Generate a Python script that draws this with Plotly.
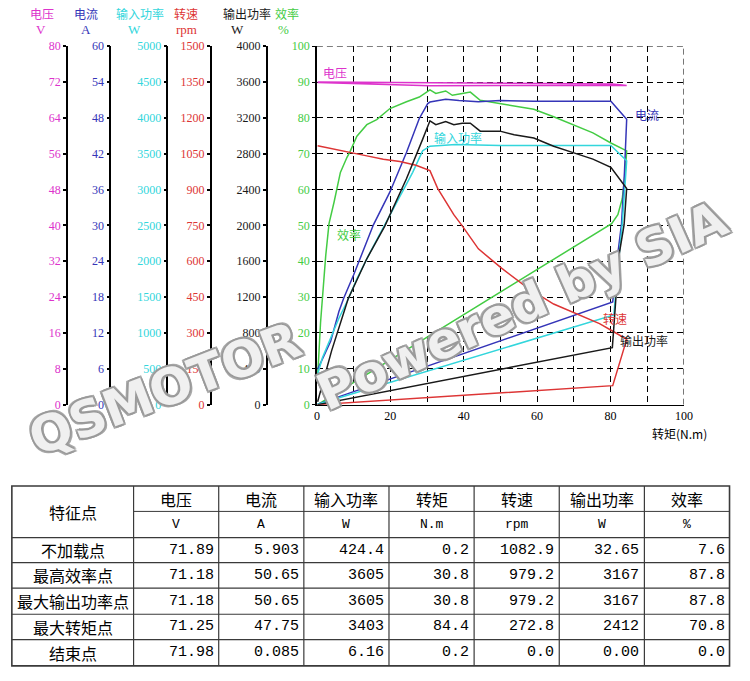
import plotly.graph_objects as go

W, H = 750, 681

# ---------------- chart data ----------------
# Voltage (V), scale 0-80
volt_torque = [0.2, 15.0, 30.8, 50.0, 84.4, 80.6, 40.0, 0.2]
volt_V = [71.89, 71.55, 71.18, 71.20, 71.25, 71.55, 71.80, 71.98]

# Current (A), scale 0-60
cur_torque = [0.2, 2.0, 3.75, 6.0, 7.3, 10.0, 12.7, 15.4, 19.9, 24.4, 27.9, 30.2, 30.8,
              35.1, 38.7, 44.0, 49.9, 59.1, 80.1, 84.4, 83.8, 83.0, 81.6, 80.6, 0.2]
cur_A = [5.903, 8.4, 10.6, 15.6, 17.8, 21.7, 26.0, 30.1, 35.6, 42.2, 47.9, 50.4, 50.65,
         51.1, 50.9, 50.7, 50.9, 50.8, 50.8, 47.75, 38.9, 30.3, 23.3, 17.2, 0.085]

# Input power (W), scale 0-5000
pin_torque = [0.2, 1.5, 3.75, 6.0, 8.2, 10.9, 14.5, 18.5, 22.6, 26.1, 28.8, 30.8, 37.8,
              49.9, 80.1, 82.8, 84.4, 84.0, 83.2, 81.9, 80.9, 0.2]
pin_W = [424.4, 655, 930, 1205, 1435, 1755, 2125, 2510, 2920, 3240, 3540, 3605, 3630,
         3615, 3615, 3490, 3403, 3100, 2525, 1850, 1250, 6.16]

# Speed (rpm), scale 0-1500
spd_torque = [0.2, 4.7, 9.1, 13.6, 18.1, 22.6, 27.0, 30.8, 32.9, 35.1, 37.3, 39.5, 44.0,
              50.3, 57.4, 64.5, 70.8, 77.0, 81.0, 84.4, 80.6, 0.2]
spd_rpm = [1082.9, 1068, 1054, 1041, 1027, 1017, 1002, 979.2, 905, 849, 795, 750, 652,
           571, 489, 421, 379, 339, 304, 272.8, 79.5, 0.0]

# Output power (W), scale 0-4000
pout_torque = [0.2, 4.0, 8.5, 13.5, 18.5, 24.4, 28.8, 30.8, 32.4, 35.1, 37.3, 39.6, 41.8,
               44.5, 49.9, 53.75, 59.1, 64.5, 69.8, 75.2, 80.1, 84.4, 83.7, 82.3, 80.5, 0.2]
pout_W = [32.65, 600, 1180, 1620, 1992, 2520, 2960, 3167, 3124, 3160, 3124, 3140, 3140,
          3052, 3052, 3012, 2976, 2884, 2812, 2740, 2648, 2412, 2008, 1664, 636, 0.0]

# Efficiency (%), scale 0-100
eff_torque = [0.2, 1.0, 2.4, 3.3, 4.7, 6.4, 8.2, 9.0, 10.9, 13.6, 16.3, 19.9, 24.4, 27.9,
              30.8, 32.4, 35.1, 36.9, 39.6, 41.8, 44.5, 49.9, 53.75, 59.1, 64.5, 69.8,
              75.2, 80.1, 84.4, 84.0, 83.2, 82.0, 80.8, 80.3, 0.2]
eff_pct = [7.6, 23.0, 41.5, 50.5, 56.6, 64.8, 69.0, 70.5, 74.9, 78.1, 79.5, 82.6, 84.5, 85.8,
           87.8, 86.8, 87.5, 86.3, 86.8, 87.2, 84.9, 84.0, 83.5, 82.4, 80.3, 78.1,
           75.8, 73.0, 70.8, 64.8, 57.5, 53.0, 51.0, 50.5, 0.0]

# axis definitions
axis_names = ["电压", "电流", "输入功率", "转速", "输出功率", "效率"]
axis_units = ["V", "A", "W", "rpm", "W", "%"]
axis_max = [80, 60, 5000, 1500, 4000, 100]
axis_step = [8, 6, 500, 150, 400, 10]

x_tick_vals = [0, 10, 20, 30, 40, 50, 60, 70, 80, 90, 100]
x_tick_text = ["0", "", "20", "", "40", "", "60", "", "80", "", "100"]

# ---------------- table data ----------------
tbl_rows = ["不加载点", "最高效率点", "最大输出功率点", "最大转矩点", "结束点"]
tbl_cols = ["电压", "电流", "输入功率", "转矩", "转速", "输出功率", "效率"]
tbl_units = ["V", "A", "W", "N.m", "rpm", "W", "%"]
tbl_voltage = ["71.89", "71.18", "71.18", "71.25", "71.98"]
tbl_current = ["5.903", "50.65", "50.65", "47.75", "0.085"]
tbl_pin = ["424.4", "3605", "3605", "3403", "6.16"]
tbl_torque = ["0.2", "30.8", "30.8", "84.4", "0.2"]
tbl_speed = ["1082.9", "979.2", "979.2", "272.8", "0.0"]
tbl_pout = ["32.65", "3167", "3167", "2412", "0.00"]
tbl_eff = ["7.6", "87.8", "87.8", "70.8", "0.0"]

# ---------------- styling ----------------
C_V = "#dd33cc"
C_A = "#3535b8"
C_PIN = "#33d6dc"
C_SPD = "#dd3535"
C_POUT = "#1a1a1a"
C_EFF = "#44cc44"
colors = [C_V, C_A, C_PIN, C_SPD, C_POUT, C_EFF]
axis_line_px = [65, 109, 167, 211, 268, 319]
header_px = [40, 84, 139, 186, 248, 289]
unit_px = [39, 84, 134, 186, 238, 285]

SERIF = "Liberation Serif, Noto Sans CJK SC"
CJK = "Noto Sans CJK SC"
MONO = "Liberation Mono, Noto Sans CJK SC"
GRID_DASH = "6px,4px"


def px(x):
    return x / W


def py(y):
    return 1 - y / H


plot_left, plot_right = 319, 692
plot_top, plot_bottom = 40, 406

fig = go.Figure()
series = [
    (volt_torque, volt_V, "y2", C_V),
    (cur_torque, cur_A, "y3", C_A),
    (pin_torque, pin_W, "y4", C_PIN),
    (spd_torque, spd_rpm, "y5", C_SPD),
    (pout_torque, pout_W, "y6", C_POUT),
    (eff_torque, eff_pct, "y", C_EFF),
]
for xs, ys, ax, col in series:
    fig.add_trace(go.Scatter(x=xs, y=ys, yaxis=ax, mode="lines",
                             line=dict(color=col, width=1.5), showlegend=False,
                             hoverinfo="skip"))

ydom = [py(plot_bottom), py(plot_top)]
layout = dict(
    width=W, height=H,
    margin=dict(l=0, r=0, t=0, b=0),
    paper_bgcolor="white", plot_bgcolor="white",
    showlegend=False,
    xaxis=dict(domain=[px(plot_left), px(plot_right)], range=[0, 100],
               tickvals=x_tick_vals, ticktext=x_tick_text,
               showgrid=True, gridcolor="black", griddash=GRID_DASH, gridwidth=1,
               showline=True, linecolor="black", linewidth=1.2,
               zeroline=False, ticks="",
               tickfont=dict(family=SERIF, size=12, color="black")),
    yaxis=dict(domain=ydom, range=[0, 100], dtick=10,
               showgrid=True, gridcolor="black", griddash=GRID_DASH, gridwidth=1,
               showline=True, linecolor="black", linewidth=1.5,
               zeroline=False, ticks="outside", ticklen=3, tickcolor="black",
               tickfont=dict(family=SERIF, size=12, color=C_EFF)),
)
for i in range(5):
    layout["yaxis%d" % (i + 2)] = dict(
        overlaying="y", anchor="free", position=px(axis_line_px[i]), side="left",
        range=[0, axis_max[i]], dtick=axis_step[i],
        showgrid=False, zeroline=False,
        showline=True, linecolor="black", linewidth=1.5,
        ticks="outside", ticklen=3, tickcolor="black", tickwidth=1.5,
        tickfont=dict(family=SERIF, size=12, color=colors[i]))
fig.update_layout(**layout)


def note(x, y, text, font, xanchor="center", yanchor="middle", xref="paper", yref="paper", **kw):
    d = dict(x=x, y=y, xref=xref, yref=yref, text=text, showarrow=False,
             xanchor=xanchor, yanchor=yanchor, font=font)
    d.update(kw)
    return d


ann = []
# axis headers
for i in range(6):
    ann.append(note(px(header_px[i]), py(7), axis_names[i],
                    dict(family=CJK, size=12, color=colors[i])))
    ann.append(note(px(unit_px[i]), py(22.5), axis_units[i],
                    dict(family=SERIF, size=13, color=colors[i])))

# in-plot curve labels
curve_labels = [
    ("电压", 1.0, 92.6, "left", C_V),
    ("电流", 86.0, 81.0, "left", C_A),
    ("输入功率", 38.5, 74.5, "center", C_PIN),
    ("效率", 5.0, 47.5, "left", C_EFF),
    ("转速", 81.2, 24.0, "center", C_SPD),
    ("输出功率", 82.0, 18.0, "left", C_POUT),
]
for t, xv, yv, al, col in curve_labels:
    ann.append(note(xv, yv, t, dict(family=CJK, size=12, color=col),
                    xanchor=al, xref="x", yref="y"))

ann.append(note(px(688), py(435), "转矩(N.m)", dict(family=CJK, size=12, color="black")))

# extra dashed border lines at torque 100 and efficiency 100
shapes = [
    dict(type="line", xref="x", yref="y", x0=100, x1=100, y0=0, y1=100,
         line=dict(color="black", width=1, dash=GRID_DASH), layer="below"),
    dict(type="line", xref="x", yref="y", x0=0, x1=100, y0=100, y1=100,
         line=dict(color="black", width=1, dash=GRID_DASH), layer="below"),
]

# ---------------- table ----------------
col_edges = [9, 132.7]
for _ in range(7):
    col_edges.append(col_edges[-1] + 86.52)
row_edges = [489, 515, 541.7, 567.3, 593.3, 620, 646, 672.7]
LC = "#3a3a3a"
shapes.append(dict(type="rect", xref="paper", yref="paper",
                   x0=px(col_edges[0]), x1=px(col_edges[-1]),
                   y0=py(row_edges[-1]), y1=py(row_edges[0]),
                   line=dict(color=LC, width=1.6)))
shapes.append(dict(type="line", xref="paper", yref="paper",
                   x0=px(col_edges[1]), x1=px(col_edges[-1]),
                   y0=py(row_edges[1]), y1=py(row_edges[1]),
                   line=dict(color=LC, width=1)))
for r in row_edges[2:-1]:
    shapes.append(dict(type="line", xref="paper", yref="paper",
                       x0=px(col_edges[0]), x1=px(col_edges[-1]), y0=py(r), y1=py(r),
                       line=dict(color=LC, width=1.2)))
for c in col_edges[1:-1]:
    shapes.append(dict(type="line", xref="paper", yref="paper",
                       x0=px(c), x1=px(c), y0=py(row_edges[0]), y1=py(row_edges[-1]),
                       line=dict(color=LC, width=1.2)))

ann.append(note(px((col_edges[0] + col_edges[1]) / 2), py((row_edges[0] + row_edges[2]) / 2),
                "特征点", dict(family=CJK, size=16, color="black")))
for j in range(7):
    cx = (col_edges[j + 1] + col_edges[j + 2]) / 2
    ann.append(note(px(cx), py((row_edges[0] + row_edges[1]) / 2), tbl_cols[j],
                    dict(family=CJK, size=16, color="black")))
    ann.append(note(px(cx), py((row_edges[1] + row_edges[2]) / 2), tbl_units[j],
                    dict(family=MONO, size=13, color="black")))
tbl_values = [tbl_voltage, tbl_current, tbl_pin, tbl_torque, tbl_speed, tbl_pout, tbl_eff]
for i, name in enumerate(tbl_rows):
    cy = (row_edges[i + 2] + row_edges[i + 3]) / 2
    ann.append(note(px((col_edges[0] + col_edges[1]) / 2), py(cy), name,
                    dict(family=CJK, size=16, color="black")))
    for j in range(7):
        ann.append(note(px(col_edges[j + 2] - 3), py(cy), tbl_values[j][i],
                        dict(family=MONO, size=15, color="black"), xanchor="right"))

# watermark
outline = ("2px 2px 0 #9a9a9a, -2px -2px 0 #9a9a9a, 2px -2px 0 #9a9a9a, "
           "-2px 2px 0 #9a9a9a, 0 2px 0 #9a9a9a, 0 -2px 0 #9a9a9a, 2px 0 0 #9a9a9a, -2px 0 0 #9a9a9a")
ann.append(note(px(165), py(390), "QSMOTOR",
                dict(family="DejaVu Sans", size=50, color="rgba(255,255,255,0.85)",
                     weight="bold", shadow=outline), textangle=-21))
ann.append(note(px(527), py(305), "Powered by SIA",
                dict(family="DejaVu Sans", size=50, color="rgba(255,255,255,0.85)",
                     weight="bold", shadow=outline), textangle=-24))

fig.update_layout(annotations=ann, shapes=shapes)

fig.write_html("out.html", config={"displayModeBar": False},
               post_script="document.body.style.margin='0';")
